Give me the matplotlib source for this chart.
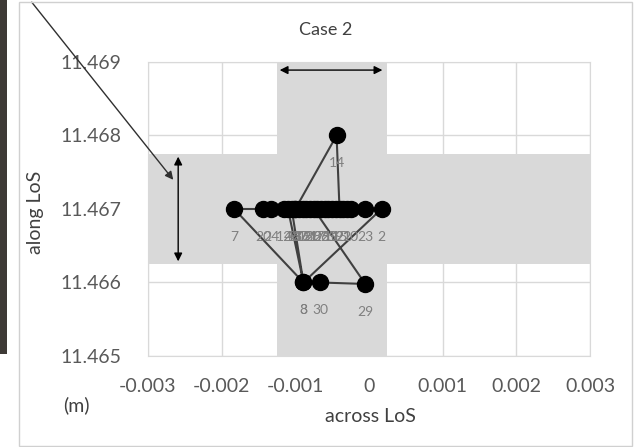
import numpy as np
import matplotlib.pyplot as plt
from matplotlib.patches import Rectangle

plt.rcParams['font.family'] = ['Lato', 'DejaVu Sans']

# trajectory points, in order 1..30
across = [-0.00030, 0.00017, -0.00089, -0.00110, -0.00060, -0.00100, -0.00183,
          -0.00089, -0.00105, -0.00025, -0.00050, -0.00115, -0.00100, -0.00044,
          -0.00040, -0.00090, -0.00070, -0.00085, -0.00045, -0.00144, -0.00080,
          -0.00035, -0.00005, -0.00133, -0.00055, -0.00065, -0.00095, -0.00075,
          -0.00005, -0.00066]
along = [11.467, 11.467, 11.466, 11.467, 11.467, 11.467, 11.467,
         11.466, 11.467, 11.467, 11.467, 11.467, 11.467, 11.468,
         11.467, 11.467, 11.467, 11.467, 11.467, 11.467, 11.467,
         11.467, 11.467, 11.467, 11.467, 11.467, 11.467, 11.467,
         11.46598, 11.466]
labels = [str(i + 1) for i in range(len(across))]

band_x = (-0.00125, 0.00025)
band_y = (11.46625, 11.46775)
xticks = [-0.003, -0.002, -0.001, 0, 0.001, 0.002, 0.003]
xtick_labels = ['-0.003', '-0.002', '-0.001', '0', '0.001', '0.002', '0.003']
yticks = [11.465, 11.466, 11.467, 11.468, 11.469]

fig = plt.figure(figsize=(6.42, 4.47), dpi=100)
ax = fig.add_axes([0.2305, 0.2036, 0.6885, 0.6577])

# frame of the chart area and dark strip at left
fig.patches.append(Rectangle((19 / 642, 1 / 447), 613 / 642, 444 / 447, transform=fig.transFigure,
                             fill=False, edgecolor='#d0d0d0', lw=1))
fig.patches.append(Rectangle((0, 1 - 354 / 447), 7 / 642, 354 / 447, transform=fig.transFigure,
                             color='#3e3a36', lw=0))

ax.axvspan(*band_x, color='#d9d9d9', lw=0, zorder=0)
ax.axhspan(*band_y, color='#d9d9d9', lw=0, zorder=0)

ax.set_xlim(-0.003, 0.003)
ax.set_ylim(11.465, 11.469)
ax.set_xticks(xticks)
ax.set_xticklabels(xtick_labels)
ax.set_yticks(yticks)
ax.set_yticklabels(['%.3f' % v for v in yticks])
ax.grid(True, color='#d9d9d9', lw=1, zorder=1)
ax.set_axisbelow(True)
for s in ax.spines.values():
    s.set_color('#d9d9d9')
ax.tick_params(length=0, labelsize=14, labelcolor='#595959')
ax.tick_params(axis='y', pad=19)
ax.tick_params(axis='x', pad=16)

ax.plot(across, along, color='#404040', lw=1.5, zorder=3)
ax.plot(across, along, 'o', color='black', ms=11.5, zorder=4)
for xv, yv, lab in zip(across, along, labels):
    ax.annotate(lab, (xv, yv), xytext=(0, -20), textcoords='offset points',
                ha='center', va='center', fontsize=10, color='#7f7f7f', zorder=5)

# double headed arrows marking the bands
ax.annotate('', xy=(band_x[0], 11.46889), xytext=(band_x[1] - 0.00003, 11.46889),
            arrowprops=dict(arrowstyle='<|-|>', color='black', lw=1, mutation_scale=12))
ax.annotate('', xy=(-0.00259, band_y[1]), xytext=(-0.00259, band_y[0]),
            arrowprops=dict(arrowstyle='<|-|>', color='black', lw=1, mutation_scale=12))
ax.annotate('', xy=(175 / 642, 1 - 182 / 447), xytext=(30 / 642, 1.0),
            xycoords='figure fraction', textcoords='figure fraction',
            arrowprops=dict(arrowstyle='-|>', color='#303030', lw=1, mutation_scale=12),
            annotation_clip=False)

fig.text(326 / 642, 1 - 30 / 447, 'Case 2', fontsize=13, color='#404040', ha='center', va='center')
fig.text(370 / 642, 1 - 416 / 447, 'across LoS', fontsize=14, color='#404040', ha='center', va='center')
fig.text(36 / 642, 1 - 212 / 447, 'along LoS', fontsize=14, color='#404040', ha='center', va='center',
         rotation=90)
fig.text(76 / 642, 1 - 405 / 447, '(m)', fontsize=14, color='#404040', ha='center', va='center')

fig.savefig('out.png', dpi=100)
